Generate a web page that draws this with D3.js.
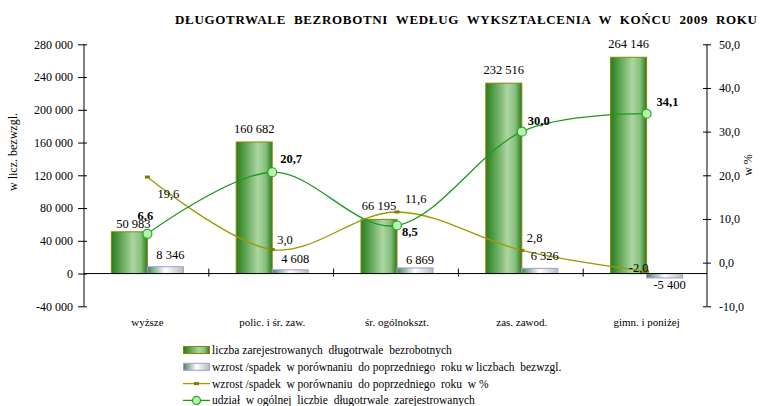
<!DOCTYPE html>
<html>
<head>
<meta charset="utf-8">
<script src="https://cdn.jsdelivr.net/npm/d3@7"></script>
<style>
  body { margin: 0; background: #fff; }
  text { font-family: "Liberation Serif", "Times New Roman", serif; fill: #000; }
</style>
</head>
<body>
<svg id="chart" width="762" height="406"></svg>
<script>
var categories = ['wyższe', 'polic. i śr. zaw.', 'śr. ogólnokszt.', 'zas. zawod.', 'gimn. i poniżej'];
var registered = [50983, 160682, 66195, 232516, 264146];
var changeAbs = [8346, 4608, 6869, 6326, -5400];
var changePct = [19.6, 3.0, 11.6, 2.8, -2.0];
var share = [6.6, 20.7, 8.5, 30.0, 34.1];
var leftTicks = [-40000, 0, 40000, 80000, 120000, 160000, 200000, 240000, 280000];
var rightTicks = [-10, 0, 10, 20, 30, 40, 50];
var legendLabels = [
  'liczba zarejestrowanych  długotrwale  bezrobotnych',
  'wzrost /spadek  w porównaniu  do poprzedniego  roku w liczbach  bezwzgl.',
  'wzrost /spadek  w porównaniu  do poprzedniego  roku  w %',
  'udział  w ogólnej  liczbie  długotrwale  zarejestrowanych'
];
var title = 'DŁUGOTRWALE  BEZROBOTNI  WEDŁUG  WYKSZTAŁCENIA  W  KOŃCU  2009  ROKU';

// label nudges (px) -- hand placed like in the original
var regLabelNudge = [[4, -4], [0, -9], [0, -9], [0, -9], [0, -9]];
var absLabelNudge = [[5, -8], [5, -7], [5, -4], [5, -8], [5, 11]];
var pctLabelNudge = [[10, 21, 'start'], [5, -6, 'start'], [8, -9, 'start'], [5, -8, 'start'], [2, 1, 'end']];
var shareLabelNudge = [[-2, -14, 'middle'], [8, -9, 'start'], [5, 10, 'start'], [6, -7, 'start'], [10, -8, 'start']];

var pl = d3.formatLocale({ decimal: ',', thousands: ' ', grouping: [3], currency: ['', ''], minus: '-' }),
    fmtInt = pl.format(',d'),
    fmtPct = pl.format(',.1f');

var svg = d3.select('#chart'),
    plotLeft = 84, plotRight = 708, plotTop = 44.3, plotBottom = 306.3;

var x = d3.scaleBand().domain(categories).range([plotLeft, plotRight]),
    yL = d3.scaleLinear().domain([-40000, 280000]).range([plotBottom, plotTop]),
    yR = d3.scaleLinear().domain([-10, 50]).range([plotBottom, plotTop]),
    barW = 36,
    cx = function(i) { return x(categories[i]) + x.bandwidth() / 2 + 1; };

// gradients
var defs = svg.append('defs');
var gGreen = defs.append('linearGradient').attr('id', 'gGreen');
[[0, '#2c7a22'], [0.2, '#4f9c45'], [0.6, '#acd6a2'], [0.82, '#86bf7c'], [1, '#2c7a22']].forEach(function(s) {
  gGreen.append('stop').attr('offset', s[0]).attr('stop-color', s[1]);
});
var gPurple = defs.append('linearGradient').attr('id', 'gPurple');
[[0, '#3f8a55'], [0.5, '#ffffff'], [1, '#a8c2b2']].forEach(function(s) {
  gPurple.append('stop').attr('offset', s[0]).attr('stop-color', s[1]);
});

// title
svg.append('text')
  .attr('x', 175).attr('y', 24)
  .attr('textLength', 582).attr('lengthAdjust', 'spacing')
  .style('font-weight', 'bold').style('font-size', '13px')
  .style('white-space', 'pre')
  .text(title);

// bars
svg.append('g').selectAll('rect')
  .data(registered)
  .enter().append('rect')
    .attr('x', function(d, i) { return cx(i) - barW; })
    .attr('y', function(d) { return yL(d); })
    .attr('width', barW)
    .attr('height', function(d) { return yL(0) - yL(d); })
    .attr('fill', 'url(#gGreen)')
    .attr('stroke', '#7f8a00').attr('stroke-width', 1);

svg.append('g').selectAll('rect')
  .data(changeAbs)
  .enter().append('rect')
    .attr('x', function(d, i) { return cx(i); })
    .attr('y', function(d) { return yL(Math.max(d, 0)); })
    .attr('width', barW)
    .attr('height', function(d) { return Math.abs(yL(0) - yL(d)); })
    .attr('fill', 'url(#gPurple)')
    .attr('stroke', '#b590e6').attr('stroke-width', 1);

// axes
var axL = svg.append('g').attr('transform', 'translate(' + plotLeft + ',0)')
  .call(d3.axisLeft(yL).tickValues(leftTicks).tickFormat(fmtInt).tickSizeInner(6).tickSizeOuter(0).tickPadding(5));
axL.selectAll('.tick line').attr('x1', 3);
axL.select('.domain').attr('d', 'M0,' + plotTop + 'V' + plotBottom);

var axR = svg.append('g').attr('transform', 'translate(707,0)')
  .call(d3.axisRight(yR).tickValues(rightTicks).tickFormat(fmtPct).tickSizeInner(4).tickSizeOuter(0).tickPadding(8));
axR.selectAll('.tick line').attr('x1', -4);
axR.select('.domain').attr('d', 'M0,' + plotTop + 'V' + plotBottom);

[axL, axR].forEach(function(a) {
  a.selectAll('text').style('font-family', '"Liberation Serif", serif').style('font-size', '12px').attr('fill', '#000');
  a.selectAll('line, path').attr('stroke', '#000');
});

// zero line with category ticks
svg.append('line')
  .attr('x1', plotLeft).attr('x2', 707)
  .attr('y1', yL(0)).attr('y2', yL(0))
  .attr('stroke', '#000');
svg.append('g').selectAll('line')
  .data(categories.slice(1))
  .enter().append('line')
    .attr('x1', function(d) { return x(d); })
    .attr('x2', function(d) { return x(d); })
    .attr('y1', yL(0) - 5).attr('y2', yL(0) + 3)
    .attr('stroke', '#000');

// category labels
svg.append('g').selectAll('text')
  .data(categories)
  .enter().append('text')
    .attr('x', function(d, i) { return cx(i); })
    .attr('y', 326)
    .attr('text-anchor', 'middle')
    .style('font-size', '11px')
    .text(function(d) { return d; });

// axis titles
svg.append('text')
  .attr('transform', 'translate(17,152) rotate(-90)')
  .attr('text-anchor', 'middle')
  .style('font-size', '12px')
  .text('w licz. bezwzgl.');
svg.append('text')
  .attr('transform', 'translate(752,165) rotate(-90)')
  .attr('text-anchor', 'middle')
  .style('font-size', '12px')
  .text('w %');

// lines
var smooth = d3.curveCardinal.tension(0);
var linePct = d3.line()
  .x(function(d, i) { return cx(i); })
  .y(function(d) { return yR(d); })
  .curve(smooth);

svg.append('path')
  .datum(changePct)
  .attr('d', linePct)
  .attr('fill', 'none').attr('stroke', '#9c9a00').attr('stroke-width', 1.3);
svg.append('g').selectAll('rect')
  .data(changePct)
  .enter().append('rect')
    .attr('x', function(d, i) { return cx(i) - 2.5; })
    .attr('y', function(d) { return yR(d) - 1.5; })
    .attr('width', 5).attr('height', 3)
    .attr('fill', '#7f7a00');

svg.append('path')
  .datum(share)
  .attr('d', linePct)
  .attr('fill', 'none').attr('stroke', '#1d9a1d').attr('stroke-width', 1.3);
svg.append('g').selectAll('circle')
  .data(share)
  .enter().append('circle')
    .attr('cx', function(d, i) { return cx(i); })
    .attr('cy', function(d) { return yR(d); })
    .attr('r', 4.5)
    .attr('fill', '#b4f5aa').attr('stroke', '#27a327').attr('stroke-width', 1.2);

// data labels
var lbl = svg.append('g').style('font-size', '12.5px');
lbl.selectAll('.reg').data(registered).enter().append('text')
  .attr('x', function(d, i) { return cx(i) - barW / 2 + regLabelNudge[i][0]; })
  .attr('y', function(d, i) { return yL(d) + regLabelNudge[i][1]; })
  .attr('text-anchor', 'middle')
  .text(fmtInt);
lbl.selectAll('.abs').data(changeAbs).enter().append('text')
  .attr('x', function(d, i) { return cx(i) + barW / 2 + absLabelNudge[i][0]; })
  .attr('y', function(d, i) { return yL(d) + absLabelNudge[i][1]; })
  .attr('text-anchor', 'middle')
  .text(fmtInt);
lbl.selectAll('.pct').data(changePct).enter().append('text')
  .attr('x', function(d, i) { return cx(i) + pctLabelNudge[i][0]; })
  .attr('y', function(d, i) { return yR(d) + pctLabelNudge[i][1]; })
  .attr('text-anchor', function(d, i) { return pctLabelNudge[i][2]; })
  .text(fmtPct);
lbl.selectAll('.share').data(share).enter().append('text')
  .attr('x', function(d, i) { return cx(i) + shareLabelNudge[i][0]; })
  .attr('y', function(d, i) { return yR(d) + shareLabelNudge[i][1]; })
  .attr('text-anchor', function(d, i) { return shareLabelNudge[i][2]; })
  .style('font-weight', 'bold')
  .text(fmtPct);

// legend
var leg = svg.append('g').attr('transform', 'translate(183,350)');
var rows = leg.selectAll('g').data(legendLabels).enter().append('g')
  .attr('transform', function(d, i) { return 'translate(0,' + (i * 16.8) + ')'; });
rows.append('text')
  .attr('x', 29).attr('y', 4)
  .style('font-size', '11.5px')
  .style('white-space', 'pre')
  .text(function(d) { return d; });

rows.filter(function(d, i) { return i === 0; }).append('rect')
  .attr('x', 0.5).attr('y', -3.5).attr('width', 26).attr('height', 7)
  .attr('fill', 'url(#gGreen)').attr('stroke', '#7f8a00');
rows.filter(function(d, i) { return i === 1; }).append('rect')
  .attr('x', 0.5).attr('y', -3.5).attr('width', 26).attr('height', 7)
  .attr('fill', 'url(#gPurple)').attr('stroke', '#b590e6');
var r3 = rows.filter(function(d, i) { return i === 2; });
r3.append('line').attr('x1', 0).attr('x2', 27).attr('y1', 0).attr('y2', 0)
  .attr('stroke', '#9c9a00').attr('stroke-width', 1.3);
r3.append('rect').attr('x', 11).attr('y', -1.5).attr('width', 5).attr('height', 3).attr('fill', '#7f7a00');
var r4 = rows.filter(function(d, i) { return i === 3; });
r4.append('line').attr('x1', 0).attr('x2', 27).attr('y1', 0).attr('y2', 0)
  .attr('stroke', '#1d9a1d').attr('stroke-width', 1.3);
r4.append('circle').attr('cx', 13.5).attr('cy', 0).attr('r', 4)
  .attr('fill', '#b4f5aa').attr('stroke', '#27a327').attr('stroke-width', 1.2);
</script>
</body>
</html>
